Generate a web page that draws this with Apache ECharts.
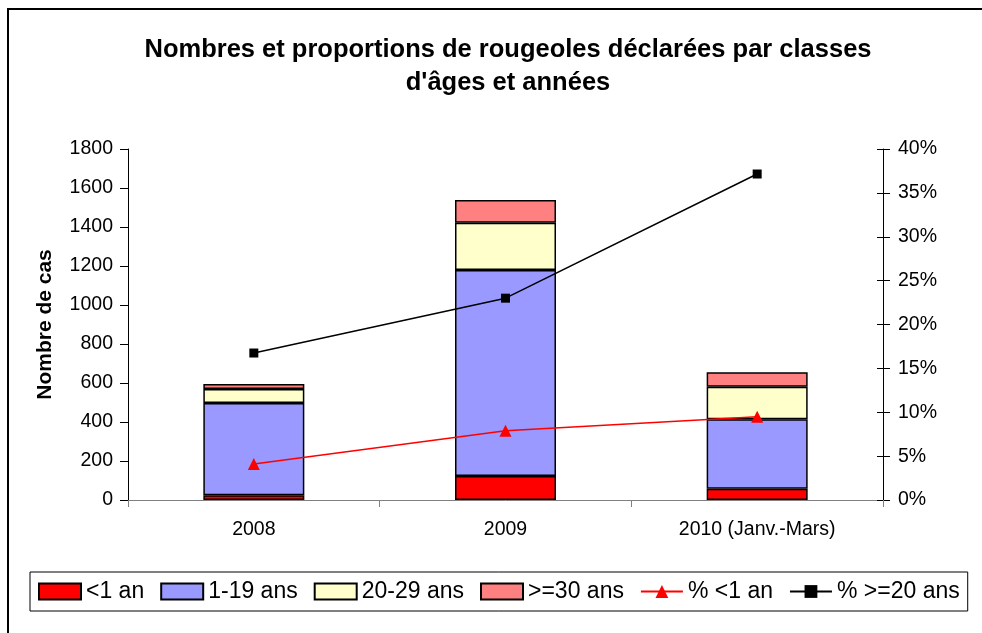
<!DOCTYPE html>
<html>
<head>
<meta charset="utf-8">
<script src="https://cdn.jsdelivr.net/npm/echarts@6/dist/echarts.min.js"></script>
<style>html,body{margin:0;padding:0;background:#fff}#c{width:982px;height:633px}</style>
</head>
<body>
<div id="c"></div>
<script>
var categories = ['2008', '2009', '2010 (Janv.-Mars)'];
var lt1 = [25, 123, 58];
var a1to19 = [472, 1057, 356];
var a20to29 = [72, 242, 167];
var ge30 = [26, 116, 74];
var pctLt1 = [4.1, 7.9, 9.5];
var pctGe20 = [16.75, 23.0, 37.15];
var leftTicks = {min: 0, max: 1800, interval: 200};
var rightTicks = {min: 0, max: 40, interval: 5};

var FONT = '"Liberation Sans", Arial, sans-serif';
var chart = echarts.init(document.getElementById('c'), null, {renderer: 'canvas'});
var barBorder = {borderColor: '#000', borderWidth: 1.5};
function bar(name, data, color) {
  return {name: name, type: 'bar', stack: 'a', data: data, barWidth: 101,
    itemStyle: Object.assign({color: color}, barBorder), emphasis: {disabled: true}};
}
chart.setOption({
  backgroundColor: '#fff',
  animation: false,
  textStyle: {fontFamily: FONT},
  title: {
    text: 'Nombres et proportions de rougeoles déclarées par classes\nd\'âges et années',
    left: 503, top: 28, textAlign: 'center',
    textStyle: {fontFamily: FONT, fontSize: 25.5, fontWeight: 'bold', color: '#000', lineHeight: 33}
  },
  graphic: [{type: 'rect', shape: {x: 8, y: 9, width: 1000, height: 700},
    style: {fill: 'none', stroke: '#000', lineWidth: 2}, silent: true}],
  legend: {
    left: 30, top: 572, padding: [8, 8, 8, 8],
    borderColor: '#000', borderWidth: 1,
    itemWidth: 42, itemHeight: 16, itemGap: 16,
    textStyle: {fontFamily: FONT, fontSize: 23, color: '#000'},
    data: [
      {name: '<1 an', icon: 'rect'}, {name: '1-19 ans', icon: 'rect'},
      {name: '20-29 ans', icon: 'rect'}, {name: '>=30 ans', icon: 'rect'},
      {name: '% <1 an'}, {name: '% >=20 ans'}
    ]
  },
  grid: {left: 128, right: 99, top: 149, bottom: 133},
  xAxis: {
    type: 'category', data: categories,
    axisLine: {lineStyle: {color: '#808080', width: 1}},
    axisTick: {show: true, length: 7, lineStyle: {color: '#808080'}},
    axisLabel: {fontSize: 19.5, color: '#000', margin: 20, fontFamily: FONT},
    splitLine: {show: false}
  },
  yAxis: [
    {type: 'value', min: leftTicks.min, max: leftTicks.max, interval: leftTicks.interval,
      name: 'Nombre de cas', nameLocation: 'middle', nameGap: 72, nameRotate: 90,
      nameTextStyle: {fontFamily: FONT, fontSize: 21, fontWeight: 'bold', color: '#000'},
      axisLine: {show: true, lineStyle: {color: '#000'}},
      axisTick: {show: true, length: 8, lineStyle: {color: '#000'}},
      axisLabel: {fontSize: 19.5, color: '#000', margin: 15, fontFamily: FONT,
        formatter: function (v) { return String(v); }},
      splitLine: {show: false}},
    {type: 'value', position: 'right', min: rightTicks.min, max: rightTicks.max, interval: rightTicks.interval,
      axisLine: {show: true, lineStyle: {color: '#000'}},
      axisTick: {show: true, length: 7, lineStyle: {color: '#000'}},
      axisLabel: {fontSize: 19.5, color: '#000', margin: 15, formatter: '{value}%', fontFamily: FONT},
      splitLine: {show: false}},
    {type: 'value', position: 'right', min: rightTicks.min, max: rightTicks.max, interval: rightTicks.interval,
      axisLine: {show: false},
      axisTick: {show: true, inside: true, length: 6, lineStyle: {color: '#000'}},
      axisLabel: {show: false}, splitLine: {show: false}}
  ],
  series: [
    bar('<1 an', lt1, '#FF0000'),
    bar('1-19 ans', a1to19, '#9999FF'),
    bar('20-29 ans', a20to29, '#FFFFCC'),
    bar('>=30 ans', ge30, '#FF8080'),
    {name: '% <1 an', type: 'line', yAxisIndex: 1, data: pctLt1,
      symbol: 'triangle', symbolSize: 12, lineStyle: {color: '#FF0000', width: 1.5},
      itemStyle: {color: '#FF0000'}, emphasis: {disabled: true}},
    {name: '% >=20 ans', type: 'line', yAxisIndex: 1, data: pctGe20,
      symbol: 'rect', symbolSize: 9, lineStyle: {color: '#000', width: 1.5},
      itemStyle: {color: '#000'}, emphasis: {disabled: true}}
  ]
});
</script>
</body>
</html>
